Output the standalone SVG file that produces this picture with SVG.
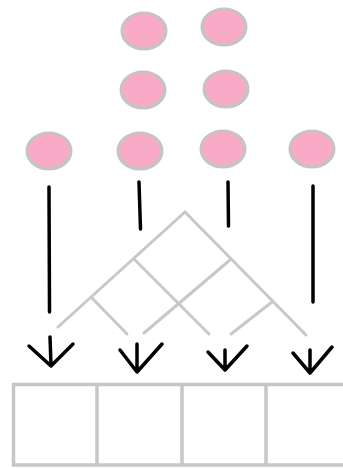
<svg xmlns="http://www.w3.org/2000/svg" width="343" height="468" viewBox="0 0 343 468">
  <style>
    .dot { fill: #f8aac6; stroke: #c4c4c4; stroke-width: 3; }
    .tree { fill: none; stroke: #c8c8c8; stroke-width: 3; stroke-linecap: round; }
    .ink { fill: none; stroke: #000; stroke-width: 3.5; stroke-linecap: round; stroke-linejoin: round; }
    .cell { fill: #fff; stroke: #c6c6c6; stroke-width: 3.5; }
  </style>
  <rect width="343" height="468" fill="#fff"/>

  <!-- stacked dots -->
  <g id="dot-a1"><ellipse class="dot" cx="144" cy="31" rx="22" ry="18"/></g>
  <g id="dot-b1"><ellipse class="dot" cx="224" cy="27" rx="22" ry="18"/></g>
  <g id="dot-a2"><ellipse class="dot" cx="143" cy="90" rx="22" ry="18"/></g>
  <g id="dot-b2"><ellipse class="dot" cx="226" cy="89" rx="22" ry="18"/></g>
  <g id="dot-c0"><ellipse class="dot" cx="49" cy="151" rx="22" ry="18"/></g>
  <g id="dot-c1"><ellipse class="dot" cx="140" cy="151" rx="22" ry="18"/></g>
  <g id="dot-c2"><ellipse class="dot" cx="223" cy="149" rx="22" ry="18"/></g>
  <g id="dot-c3"><ellipse class="dot" cx="312" cy="149" rx="22" ry="18"/></g>

  <!-- branching network -->
  <g id="network">
    <polyline class="tree" points="58,327 185,212 306,335"/>
    <line class="tree" x1="134" y1="259" x2="209" y2="334"/>
    <line class="tree" x1="230" y1="260" x2="144" y2="333"/>
    <line class="tree" x1="91" y1="297" x2="127" y2="334"/>
    <line class="tree" x1="272" y1="302" x2="231" y2="334"/>
  </g>

  <!-- connectors -->
  <g id="connectors">
    <line class="ink" x1="49" y1="187" x2="49.5" y2="312"/>
    <line class="ink" x1="139" y1="182" x2="140.5" y2="229"/>
    <line class="ink" x1="228" y1="182" x2="228.5" y2="226"/>
    <line class="ink" x1="313" y1="186" x2="313" y2="302"/>

    <path class="ink" d="M50,337 L51,365 M29,346 L51,366 L73,344"/>
    <path class="ink" d="M137,344 L137,371 M120,350 L137,372 L162,344"/>
    <path class="ink" d="M225,350 L225,369 M208,352 L225,370 L247,346"/>
    <path class="ink" d="M310,350 L310,372 M293,353 L310,373 L332,347"/>
  </g>

  <!-- row of cells -->
  <g id="cells">
    <rect class="cell" x="13.5" y="384.5" width="336" height="80.5"/>
    <line class="cell" x1="97" y1="384.5" x2="97" y2="465"/>
    <line class="cell" x1="182" y1="384.5" x2="182" y2="465"/>
    <line class="cell" x1="266" y1="384.5" x2="266" y2="465"/>
  </g>
</svg>
